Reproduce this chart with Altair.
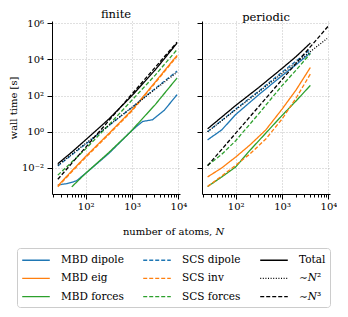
import altair as alt
import pandas as pd

SERIF = "DejaVu Serif"

# ---- series (legend order, filled column by column in a 3-column legend)
SERIES = ["MBD dipole", "MBD eig", "MBD forces",
          "SCS dipole", "SCS inv", "SCS forces",
          "Total", "∼𝑁²", "∼𝑁³"]
COLORS = ["#1f77b4", "#ff7f0e", "#2ca02c",
          "#1f77b4", "#ff7f0e", "#2ca02c",
          "#000000", "#000000", "#000000"]
DASHES = [[1, 0], [1, 0], [1, 0],
          [4, 2], [4, 2], [4, 2],
          [1, 0], [1, 1.6], [4, 2]]
WIDTHS = [1.3, 1.3, 1.3,
          1.3, 1.3, 1.3,
          2.2, 1.1, 1.3]

# ---- finite systems: log10(N) and log10(wall time / s)
FIN_MBD_DIPOLE_LOGN = [1.40, 1.60, 1.80, 2.00, 2.50, 2.95, 3.10, 3.23, 3.44, 3.70, 3.97]
FIN_MBD_DIPOLE_LOGT = [-2.94, -2.87, -2.72, -2.30, -1.20, -0.05, 0.30, 0.57, 0.66, 1.20, 2.05]
FIN_MBD_EIG_LOGN = [1.40, 1.70, 2.00, 2.50, 3.00, 3.50, 3.97]
FIN_MBD_EIG_LOGT = [-2.99, -2.17, -1.37, -0.10, 1.20, 2.75, 4.22]
FIN_MBD_FORCES_LOGN = [1.70, 2.00, 2.50, 2.95, 3.50, 3.97]
FIN_MBD_FORCES_LOGT = [-3.05, -2.30, -1.15, -0.05, 1.50, 2.97]
FIN_SCS_DIPOLE_LOGN = [1.40, 2.00, 2.50, 3.00, 3.50, 3.97]
FIN_SCS_DIPOLE_LOGT = [-1.89, -0.68, 0.33, 1.35, 2.40, 3.35]
FIN_SCS_INV_LOGN = [1.40, 1.70, 2.00, 2.50, 3.00, 3.50, 3.97]
FIN_SCS_INV_LOGT = [-3.04, -2.22, -1.42, -0.15, 1.15, 2.70, 4.17]
FIN_SCS_FORCES_LOGN = [1.40, 1.70, 2.00, 2.50, 3.00, 3.50, 3.97]
FIN_SCS_FORCES_LOGT = [-2.40, -1.68, -0.95, 0.38, 1.75, 3.13, 4.54]
FIN_TOTAL_LOGN = [1.40, 1.70, 2.00, 2.50, 3.00, 3.50, 3.97]
FIN_TOTAL_LOGT = [-1.77, -1.13, -0.45, 0.70, 2.00, 3.42, 4.90]
FIN_N2_LOGN = [1.40, 3.97]
FIN_N2_LOGT = [-1.85, 3.29]
FIN_N3_LOGN = [1.40, 3.97]
FIN_N3_LOGT = [-2.63, 4.95]

# ---- periodic systems
PER_MBD_DIPOLE_LOGN = [1.395, 1.70, 2.00, 2.50, 3.00, 3.30, 3.61]
PER_MBD_DIPOLE_LOGT = [-0.45, 0.10, 0.95, 2.05, 3.10, 3.70, 4.36]
PER_MBD_EIG_LOGN = [1.395, 1.70, 2.00, 2.30, 2.65, 3.00, 3.30, 3.61]
PER_MBD_EIG_LOGT = [-2.50, -2.00, -1.40, -0.75, 0.10, 1.25, 2.30, 3.55]
PER_MBD_FORCES_LOGN = [1.395, 1.70, 2.00, 2.30, 2.66, 3.00, 3.32, 3.61]
PER_MBD_FORCES_LOGT = [-3.03, -2.50, -1.95, -1.05, -0.05, 0.90, 1.75, 2.56]
PER_SCS_DIPOLE_LOGN = [1.395, 2.00, 2.50, 3.00, 3.30, 3.61]
PER_SCS_DIPOLE_LOGT = [0.00, 1.25, 2.25, 3.30, 3.90, 4.54]
PER_SCS_INV_LOGN = [1.395, 1.70, 2.00, 2.30, 2.65, 3.00, 3.30, 3.61]
PER_SCS_INV_LOGT = [-3.03, -2.45, -1.85, -1.25, -0.40, 0.70, 1.85, 3.19]
PER_SCS_FORCES_LOGN = [1.395, 1.70, 2.00, 2.50, 3.00, 3.30, 3.61]
PER_SCS_FORCES_LOGT = [-1.86, -1.25, -0.50, 1.00, 2.55, 3.40, 4.32]
PER_TOTAL_LOGN = [1.395, 2.00, 2.50, 3.00, 3.30, 3.61]
PER_TOTAL_LOGT = [0.16, 1.45, 2.45, 3.50, 4.15, 4.90]
PER_N2_LOGN = [1.395, 3.97]
PER_N2_LOGT = [0.00, 5.15]
PER_N3_LOGN = [1.395, 4.00]
PER_N3_LOGT = [-1.88, 5.85]

PANELS = {
    "finite": {
        "MBD dipole": (FIN_MBD_DIPOLE_LOGN, FIN_MBD_DIPOLE_LOGT),
        "MBD eig": (FIN_MBD_EIG_LOGN, FIN_MBD_EIG_LOGT),
        "MBD forces": (FIN_MBD_FORCES_LOGN, FIN_MBD_FORCES_LOGT),
        "SCS dipole": (FIN_SCS_DIPOLE_LOGN, FIN_SCS_DIPOLE_LOGT),
        "SCS inv": (FIN_SCS_INV_LOGN, FIN_SCS_INV_LOGT),
        "SCS forces": (FIN_SCS_FORCES_LOGN, FIN_SCS_FORCES_LOGT),
        "Total": (FIN_TOTAL_LOGN, FIN_TOTAL_LOGT),
        "∼𝑁²": (FIN_N2_LOGN, FIN_N2_LOGT),
        "∼𝑁³": (FIN_N3_LOGN, FIN_N3_LOGT),
    },
    "periodic": {
        "MBD dipole": (PER_MBD_DIPOLE_LOGN, PER_MBD_DIPOLE_LOGT),
        "MBD eig": (PER_MBD_EIG_LOGN, PER_MBD_EIG_LOGT),
        "MBD forces": (PER_MBD_FORCES_LOGN, PER_MBD_FORCES_LOGT),
        "SCS dipole": (PER_SCS_DIPOLE_LOGN, PER_SCS_DIPOLE_LOGT),
        "SCS inv": (PER_SCS_INV_LOGN, PER_SCS_INV_LOGT),
        "SCS forces": (PER_SCS_FORCES_LOGN, PER_SCS_FORCES_LOGT),
        "Total": (PER_TOTAL_LOGN, PER_TOTAL_LOGT),
        "∼𝑁²": (PER_N2_LOGN, PER_N2_LOGT),
        "∼𝑁³": (PER_N3_LOGN, PER_N3_LOGT),
    },
}

X_TICKS = [20, 30, 40, 50, 60, 70, 80, 90, 100, 200, 300, 400, 500, 600, 700, 800, 900,
           1000, 2000, 3000, 4000, 5000, 6000, 7000, 8000, 9000, 10000]
Y_TICKS = [1e-2, 1, 1e2, 1e4, 1e6]
X_DOMAIN = [18.8, 10800]
Y_DOMAIN = [3.6e-4, 1.32e6]

rows = []
for panel, series in PANELS.items():
    for k, name in enumerate(SERIES):
        lx, ly = series[name]
        for a, b in zip(lx, ly):
            rows.append({"panel": panel, "series": name, "rank": k,
                         "N": 10 ** a, "t": 10 ** b})
df = pd.DataFrame(rows)

MAJ = "datum.value == 100 || datum.value == 1000 || datum.value == 10000"

legend = alt.Legend(
    title=None, orient="none", legendX=-35, legendY=227, columns=3,
    symbolType="M-2,0H2", symbolSize=190, symbolOffset=7, labelFont=SERIF, labelFontSize=10.5,
    labelOffset=17, columnPadding=16, rowPadding=4.3, padding=4,
    strokeColor="#cccccc", fillColor="white", cornerRadius=3,
    labelLimit=200, gridAlign="each",
)


def panel(name, first):
    xaxis = alt.Axis(
        values=X_TICKS,
        labelExpr="datum.value == 100 ? '10²' : datum.value == 1000 ? '10³' : datum.value == 10000 ? '10⁴' : ''",
        tickSize={"condition": {"test": MAJ, "value": 5}, "value": 3},
        gridOpacity={"condition": {"test": MAJ, "value": 1}, "value": 0},
        labelOverlap=False, labelFlush=False, labelPadding=2.5,
        title="number of atoms, 𝑁" if first else None,
        titleX=121, titleY=40, titleBaseline="alphabetic", titleAnchor="middle",
    )
    yaxis = alt.Axis(
        values=Y_TICKS,
        labelExpr="datum.value < 0.1 ? '10⁻²' : datum.value < 10 ? '10⁰' : datum.value < 1000 ? '10²' : datum.value < 1e5 ? '10⁴' : '10⁶'",
        labels=first, tickSize=5, labelPadding=3.5, labelOverlap=False, labelFlush=False,
        title="wall time [s]" if first else None,
        titleX=-39, titleBaseline="middle",
    )
    return alt.Chart(df[df.panel == name]).mark_line().encode(
        x=alt.X("N:Q", scale=alt.Scale(type="log", domain=X_DOMAIN, nice=False), axis=xaxis),
        y=alt.Y("t:Q", scale=alt.Scale(type="log", domain=Y_DOMAIN, nice=False), axis=yaxis),
        color=alt.Color("series:N", scale=alt.Scale(domain=SERIES, range=COLORS), legend=legend),
        strokeDash=alt.StrokeDash("series:N", scale=alt.Scale(domain=SERIES, range=DASHES), legend=legend),
        strokeWidth=alt.StrokeWidth("series:N", scale=alt.Scale(domain=SERIES, range=WIDTHS), legend=legend),
        order=alt.Order("N:Q"),
    ).properties(
        width=128, height=173,
        title=alt.TitleParams(text=name, font=SERIF, fontSize=11.5, fontWeight="normal",
                              offset=-2, anchor="middle", color="black"),
    )


chart = alt.hconcat(panel("finite", True), panel("periodic", False),
                    spacing=22, bounds="flush").resolve_scale(
    color="shared", strokeDash="shared", strokeWidth="shared"
).properties(
    padding={"left": 0, "top": 0, "right": 0, "bottom": 0},
).configure_view(stroke=None).configure_axis(
    domainColor="black", domainWidth=1, tickColor="black", tickWidth=1,
    labelFont=SERIF, labelFontSize=10, labelColor="black",
    titleFont=SERIF, titleFontSize=10, titleFontWeight="normal", titleColor="black",
    gridColor="#b0b0b0", gridDash=[1, 2], gridWidth=0.8,
)

chart.save("out.html", embed_options={"renderer": "svg", "actions": False})
